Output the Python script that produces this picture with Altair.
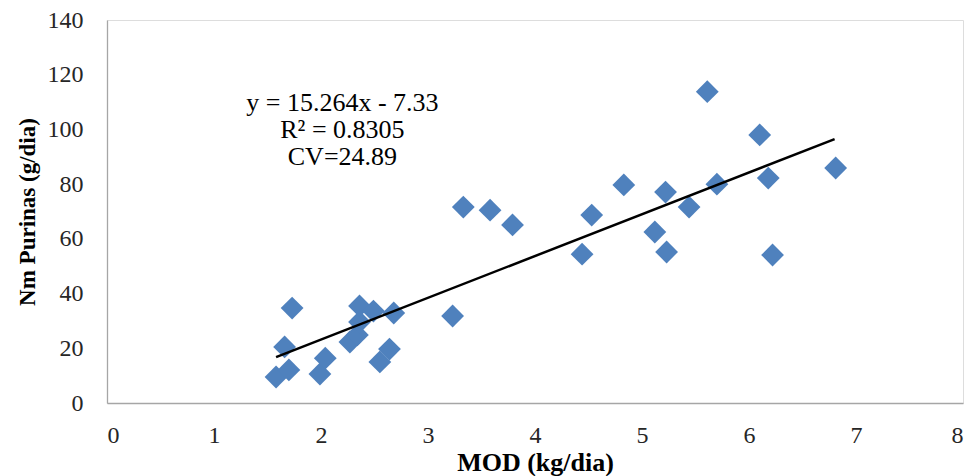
import altair as alt
import pandas as pd

# Data
mod_kg_dia = [1.58, 1.70, 1.66, 1.73, 1.99, 2.04, 2.27, 2.34, 2.36, 2.36, 2.49,
              2.68, 2.55, 2.64, 3.23, 3.33, 3.58, 3.79, 4.44, 4.53, 4.83, 5.12,
              5.23, 5.22, 5.44, 5.61, 5.70, 6.10, 6.18, 6.22, 6.81]
nm_purinas = [9.5, 12.1, 20.5, 34.7, 10.6, 16.4, 22.3, 24.9, 29.6, 35.5, 33.6,
              32.9, 15.0, 19.7, 31.8, 71.6, 70.5, 65.1, 54.4, 68.7, 79.7, 62.5,
              55.2, 77.1, 71.6, 113.8, 80.0, 98.0, 82.2, 54.1, 85.9]

slope = 15.264
intercept = -7.33
trend_x = [1.58, 6.80]

annot_text = ["y = 15.264x - 7.33", "R² = 0.8305", "CV=24.89"]
annot_x = [2.2, 2.2, 2.2]
annot_y = [109.6, 99.8, 89.9]

x_ticks = [0, 1, 2, 3, 4, 5, 6, 7, 8]
y_ticks = [0, 20, 40, 60, 80, 100, 120, 140]

FONT = "Liberation Serif"

pts = pd.DataFrame({"x": mod_kg_dia, "y": nm_purinas})
trend = pd.DataFrame({"x": trend_x})
annot = pd.DataFrame({"x": annot_x, "y": annot_y, "t": annot_text})

xscale = alt.Scale(domain=[0, 8], nice=False, zero=True)
yscale = alt.Scale(domain=[0, 140], nice=False, zero=True)

xaxis = alt.Axis(values=x_ticks, format="d", title="MOD (kg/dia)", grid=False, ticks=False,
                 domainColor="#A6A6A6", domainWidth=1.3, labelFont=FONT,
                 labelFontSize=24, labelColor="#262626", labelPadding=20,
                 titleFont=FONT, titleFontSize=26, titleFontWeight="bold",
                 titleColor="#000000", titlePadding=2)
yaxis = alt.Axis(values=y_ticks, format="d", title="Nm Purinas (g/dia)", grid=False, ticks=False,
                 domainColor="#A6A6A6", domainWidth=1.3, labelFont=FONT,
                 labelFontSize=24, labelColor="#262626", labelPadding=24,
                 titleFont=FONT, titleFontSize=23, titleFontWeight="bold",
                 titleColor="#000000", titlePadding=8)

points = alt.Chart(pts).mark_point(shape="diamond", filled=True, size=520,
                                   color="#4F81BD", opacity=1).encode(
    x=alt.X("x:Q", scale=xscale, axis=xaxis),
    y=alt.Y("y:Q", scale=yscale, axis=yaxis),
)

line = alt.Chart(trend).transform_calculate(
    y=f"{slope} * datum.x + ({intercept})"
).mark_line(color="#000000", strokeWidth=2.5).encode(
    x=alt.X("x:Q", scale=xscale),
    y=alt.Y("y:Q", scale=yscale),
)

text = alt.Chart(annot).mark_text(font=FONT, fontSize=26, color="#000000",
                                  align="center", baseline="middle").encode(
    x=alt.X("x:Q", scale=xscale),
    y=alt.Y("y:Q", scale=yscale),
    text="t:N",
)

chart = alt.layer(points, line, text).properties(
    width=856, height=383,
    autosize=alt.AutoSizeParams(type="none"),
    padding={"left": 107, "top": 20, "right": 13, "bottom": 73},
).configure_view(stroke=None).configure(background="#FFFFFF")

chart.save("out.html", embed_options={"renderer": "svg", "actions": False})
